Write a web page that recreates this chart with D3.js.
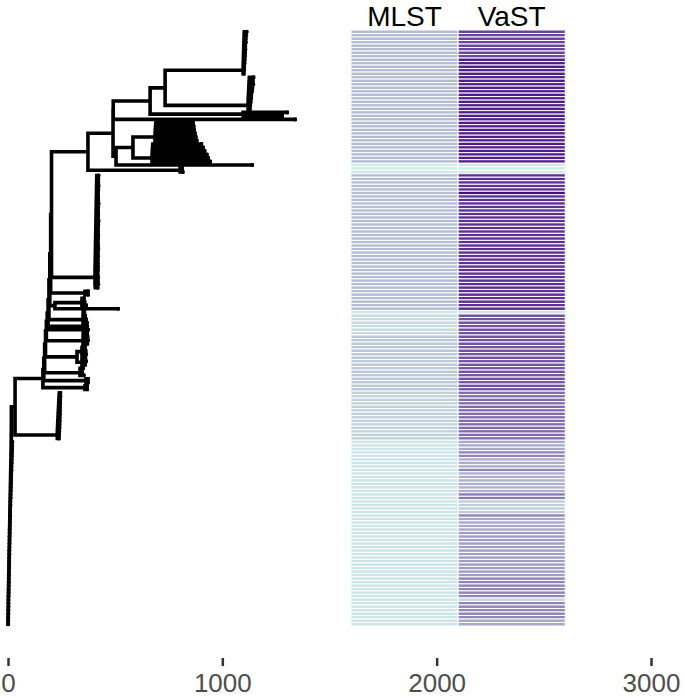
<!doctype html>
<html lang="en">
<head>
<meta charset="utf-8">
<title>Phylogeny with MLST / VaST heatmap</title>
<style>
body { margin: 0; background: #fff; font-family: Helvetica, Arial, "Liberation Sans", sans-serif; }
</style>
</head>
<body>
<div id="chart"></div>
<script src="https://d3js.org/d3.v7.min.js"></script>
<script>
// tip ends of each near-clonal clade, offset from the clade node (tree units), top to bottom
var tipsE = [16, 14, 12, 12, 10, 10, 9, 8, 7, 6, 5, 4, 3];
var tipsF = [25, 22, 24, 20, 18, 15, 14, 12, 10, 8];
var tipsH1 = [177, 180, 182, 186, 190, 194];
var tipsH2 = [230, 238, 245, 255, 262, 271];
var tipsQ = [16, 15, 15, 16, 15, 14, 14, 15, 16, 15, 14, 15, 14, 16, 15, 14, 14, 15, 14, 13, 14, 15, 13, 14, 13, 13, 14, 13, 12];
var tipsQb = [13, 12, 14, 11];
var tipsK2 = [9, 12, 19];
var tipsK3 = [6, 10, 14, 18];
var tipsK4 = [19, 21, 23, 20];
var tipsK5a = [14, 17, 19];
var tipsK5b = [16, 19, 15];
var tipsK6 = [14, 9, 17];
var tipsN4 = [14, 14, 13, 13, 12, 12, 12, 11, 11, 10, 10, 9, 8, 7];
var tipsR = [20, 19, 19, 18, 18, 17, 17, 16, 16, 15, 15, 14, 14, 13, 13, 12, 12, 11, 11, 10,
             10, 10, 9, 9, 8, 8, 8, 7, 7, 7, 6, 6, 6, 5, 5, 5, 4, 4, 4, 4,
             3, 3, 3, 3, 2, 2, 2, 2, 1.5, 1.5, 1, 1, 0.5];

// backbone: (a,b):len is a node, {step|...} a ladder whose children carry offsets from the ladder node,
// @name expands into the tips of that clade
var treeShape =
  "{0.3|(" +
    "{4|" +
      "(" +
        "{1|" +
          "(({0.5|@E}:364,{0.8|@F}:387):70,(:205,:182):434):173," +
          ":849," +
          "(({1|@H1}:103,{1|@H2}:89):79,:635):14" +
        "}:117," +
        "(:9,:12):430" +
      "):210," +
      "{0.3|@Q,{0.3|@Qb}:1}:243," +
      "(:14,:14):196," +
      "({0.5|@K2}:126,:294):56," +
      "{0.5|@K3}:187," +
      ":206,:210," +
      "{0.5|@K4}:187," +
      "({0.5|@K5a}:23,{0.5|@K5b}:23):159," +
      "{0.5|@K6}:173," +
      "(:9,:9):201," +
      "(:10,:10):196" +
    "}:130," +
    "{0.8|@N4}:197" +
  "):33,@R}";

var columns = ["MLST", "VaST"];
// heatmap values per tip, top to bottom (0 = light cyan, 100 = dark purple)
var mlst = [
  22, 22, 22, 22, 22, 22, 22, 22, 22, 22, 22, 22, 22, 22, 22, 22, 22, 22, 22, 22,
  22, 22, 22, 22, 22, 22, 22, 22, 22, 22, 22, 22, 22, 22, 22, 22, 22, 22, 3, 3,
  3, 21, 21, 21, 21, 21, 21, 21, 21, 21, 21, 21, 21, 21, 21, 21, 21, 21, 21, 21,
  21, 21, 21, 21, 21, 21, 21, 21, 21, 21, 21, 21, 21, 21, 21, 21, 21, 21, 21, 21,
  4, 9, 9, 9, 9, 9, 9, 17, 17, 17, 17, 17, 17, 17, 17, 17, 17, 17, 17, 17,
  17, 17, 17, 13, 13, 13, 13, 13, 13, 13, 13, 13, 13, 13, 13, 13, 13, 5, 5, 5,
  5, 5, 5, 5, 5, 5, 5, 5, 5, 5, 5, 5, 5, 5, 5, 5, 5, 5, 5, 5,
  5, 5, 5, 5, 5, 5, 5, 5, 5, 5, 5, 5, 5, 5, 5, 5, 5, 5, 5, 5,
  5, 5, 5, 5, 5, 5, 5, 5, 5, 5];
var vast = [
  72, 72, 72, 72, 72, 72, 72, 72, 88, 88, 88, 88, 88, 88, 88, 88, 88, 88, 88, 88,
  88, 88, 88, 88, 88, 88, 88, 88, 88, 88, 88, 88, 88, 88, 88, 88, 88, 88, 3, 3,
  3, 80, 80, 80, 80, 80, 95, 80, 80, 80, 80, 80, 80, 80, 80, 80, 80, 80, 80, 80,
  80, 80, 80, 80, 80, 80, 80, 80, 80, 80, 80, 80, 80, 80, 80, 80, 80, 80, 80, 80,
  5, 66, 66, 66, 66, 66, 66, 66, 66, 66, 66, 66, 66, 66, 66, 66, 66, 66, 66, 66,
  66, 66, 66, 56, 56, 56, 56, 56, 56, 56, 56, 56, 56, 56, 56, 56, 56, 30, 30, 30,
  45, 45, 28, 28, 28, 45, 27, 27, 27, 27, 27, 27, 50, 50, 15, 15, 15, 15, 45, 30,
  30, 30, 30, 35, 35, 35, 35, 35, 35, 35, 35, 35, 35, 35, 35, 35, 45, 45, 45, 45,
  45, 45, 10, 45, 45, 45, 45, 45, 30, 30];
var xTicks = [0, 1000, 2000, 3000];
var heatStart = 1600, heatWidth = 500;

var tipSets = {E: tipsE, F: tipsF, H1: tipsH1, H2: tipsH2, Q: tipsQ, Qb: tipsQb, K2: tipsK2, K3: tipsK3,
               K4: tipsK4, K5a: tipsK5a, K5b: tipsK5b, K6: tipsK6, N4: tipsN4, R: tipsR};

function ladder(kids, step) {
  var n = kids.length, d = (n - 2) * step;
  kids[0].len = Math.max(0, kids[0].len - d);
  kids[1].len = Math.max(0, kids[1].len - d);
  var node = {children: [kids[0], kids[1]]};
  for (var k = 2; k < n; k++) {
    node.len = step;
    d -= step;
    kids[k].len = Math.max(0, kids[k].len - d);
    node = {children: [node, kids[k]]};
  }
  return node;
}

function parseTree(s) {
  var i = 0;
  function num() { var j = i; while (i < s.length && /[0-9.]/.test(s[i])) i++; return +s.slice(j, i); }
  function list() {
    var kids = [];
    while (true) {
      if (s[i] === "@") {
        i++;
        var j = i;
        while (i < s.length && /\w/.test(s[i])) i++;
        tipSets[s.slice(j, i)].forEach(function(v) { kids.push({len: v}); });
      } else kids.push(node());
      if (s[i] === ",") { i++; continue; }
      i++;
      return kids;
    }
  }
  function node() {
    var n;
    if (s[i] === "(") { i++; n = {children: list()}; }
    else if (s[i] === "{") { i++; var step = num(); i++; n = ladder(list(), step); }
    else n = {};
    n.len = 0;
    if (s[i] === ":") { i++; n.len = num(); }
    return n;
  }
  return node();
}

var root = parseTree(treeShape);
var leaves = [];
function place(n, x0) {
  n.x = x0 + n.len;
  if (n.children) {
    n.children.forEach(function(c) { place(c, n.x); });
    n.y = d3.mean(n.children, function(c) { return c.y; });
  } else {
    n.y = leaves.length;
    leaves.push(n);
  }
}
root.len = 0;
place(root, 0);

var width = 685, height = 698;
var x = d3.scaleLinear().domain([0, 3000]).range([8, 651]);
var y = d3.scaleLinear().domain([-0.5, leaves.length - 0.5]).range([30, 626]);
var fill = d3.scaleLinear().domain([0, 100]).range(["#d4f1eb", "#3f007d"]).interpolate(d3.interpolateRgb);

var svg = d3.select("#chart").append("svg")
    .attr("width", width)
    .attr("height", height);

// tree edges
var path = d3.path();
(function walk(n) {
  if (!n.children) return;
  var ys = n.children.map(function(c) { return y(c.y); });
  path.moveTo(x(n.x), d3.min(ys));
  path.lineTo(x(n.x), d3.max(ys));
  n.children.forEach(function(c) {
    path.moveTo(x(n.x), y(c.y));
    path.lineTo(x(c.x), y(c.y));
    walk(c);
  });
})(root);

svg.append("path")
    .attr("d", path.toString())
    .attr("fill", "none")
    .attr("stroke", "#000")
    .attr("stroke-width", 3.6)
    .attr("stroke-linecap", "square");

svg.append("g").selectAll("circle")
    .data(leaves)
    .join("circle")
    .attr("cx", function(d) { return x(d.x); })
    .attr("cy", function(d) { return y(d.y); })
    .attr("r", 2)
    .attr("fill", "#000");

// heatmap
var cells = [];
leaves.forEach(function(l, r) {
  cells.push({col: 0, row: r, v: mlst[r]});
  cells.push({col: 1, row: r, v: vast[r]});
});

svg.append("g").selectAll("rect")
    .data(cells)
    .join("rect")
    .attr("x", function(d) { return x(heatStart + d.col * heatWidth); })
    .attr("width", x(heatWidth) - x(0))
    .attr("y", function(d) { return y(d.row - 0.5); })
    .attr("height", y(1) - y(0))
    .attr("fill", function(d) { return fill(d.v); })
    .attr("stroke", "#fff")
    .attr("stroke-width", 1);

svg.append("g").selectAll("text")
    .data(columns)
    .join("text")
    .attr("x", function(d, i) { return x(heatStart + (i + 0.5) * heatWidth); })
    .attr("y", 25.5)
    .attr("text-anchor", "middle")
    .attr("font-size", 28)
    .attr("fill", "#000")
    .text(function(d) { return d; });

// x axis
var axis = svg.append("g")
    .attr("transform", "translate(0,658)")
    .call(d3.axisBottom(x).tickValues(xTicks).tickSize(8).tickPadding(8).tickFormat(d3.format("d")));
axis.select(".domain").remove();
axis.selectAll(".tick line").attr("stroke", "#333").attr("stroke-width", 2.5);
axis.selectAll(".tick text")
    .attr("fill", "#4d4d4d")
    .attr("font-size", 26)
    .attr("font-family", "Helvetica, Arial, 'Liberation Sans', sans-serif");
</script>
</body>
</html>
